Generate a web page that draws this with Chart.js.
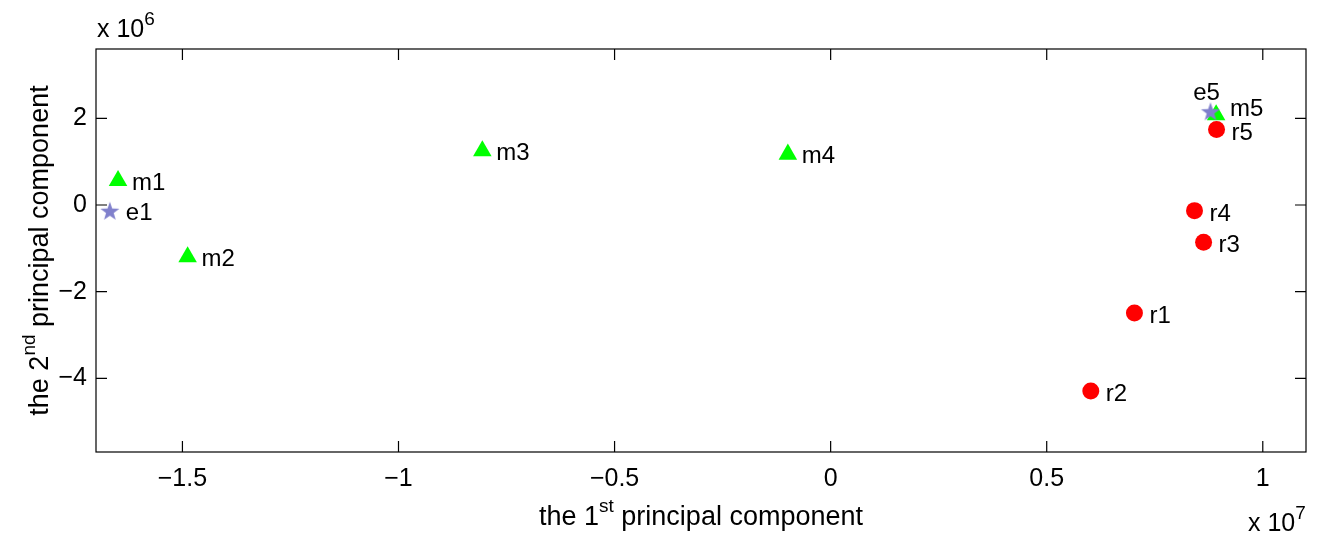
<!DOCTYPE html>
<html>
<head>
<meta charset="utf-8">
<script src="https://cdn.jsdelivr.net/npm/chart.js@4"></script>
<style>
  html, body { margin: 0; padding: 0; background: #fff; }
  canvas { display: block; }
</style>
</head>
<body>
<canvas id="grafica" width="1317" height="537"></canvas>
<script>
// valores (x en unidades de 10^7, y en unidades de 10^6)
const etiquetasE = ['e1', 'e5']
const xE = [-1.668, 0.879]
const yE = [-0.155, 2.14]

const etiquetasM = ['m1', 'm2', 'm3', 'm4', 'm5']
const xM = [-1.649, -1.488, -0.806, -0.099, 0.892]
const yM = [0.56, -1.20, 1.25, 1.17, 2.08]

const etiquetasR = ['r1', 'r2', 'r3', 'r4', 'r5']
const xR = [0.703, 0.602, 0.863, 0.842, 0.893]
const yR = [-2.49, -4.29, -0.86, -0.13, 1.74]

const ticksX = [-1.5, -1, -0.5, 0, 0.5, 1]
const ticksY = [-4, -2, 0, 2]

const fuente = "'Liberation Sans', Arial, Helvetica, sans-serif"

// desplazamiento de cada etiqueta respecto a su punto: [dx, dy, alineacion]
const ajusteEtiqueta = {
  m5: [14, 1, 'left'],
  e5: [-4, -12, 'center'],
  e1: [16, 8, 'left']
}

function puntos(xs, ys) {
  return xs.map((x, i) => ({ x: x, y: ys[i] }))
}

function menos(v) {
  return (v < 0 ? '\u2212' : '') + Math.abs(v)
}

// estrella de cinco puntas para los puntos "e"
function estrella(color, R, r) {
  const c = document.createElement('canvas')
  c.width = c.height = 2 * R + 2
  const g = c.getContext('2d')
  g.fillStyle = color
  g.beginPath()
  for (let i = 0; i < 10; i++) {
    const rad = i % 2 ? r : R
    const a = -Math.PI / 2 + i * Math.PI / 5
    const px = R + 1 + rad * Math.cos(a)
    const py = R + 1 + rad * Math.sin(a)
    if (i === 0) g.moveTo(px, py); else g.lineTo(px, py)
  }
  g.closePath()
  g.fill()
  return c
}

// texto con partes en superindice
function textoSup(ctx, partes, x, y, tam, tamSup, subida, align) {
  let ancho = 0
  partes.forEach(p => {
    ctx.font = (p[1] ? tamSup : tam) + 'px ' + fuente
    ancho += ctx.measureText(p[0]).width
  })
  let cx = align === 'center' ? x - ancho / 2 : x
  ctx.textAlign = 'left'
  ctx.textBaseline = 'alphabetic'
  partes.forEach(p => {
    ctx.font = (p[1] ? tamSup : tam) + 'px ' + fuente
    ctx.fillText(p[0], cx, p[1] ? y - subida : y)
    cx += ctx.measureText(p[0]).width
  })
}

const adornos = {
  id: 'adornos',
  afterDatasetsDraw(chart) {
    const ctx = chart.ctx
    const a = chart.chartArea
    const sx = chart.scales.x
    const sy = chart.scales.y
    ctx.save()
    ctx.strokeStyle = '#000'
    ctx.lineWidth = 1.2
    ctx.strokeRect(a.left, a.top, a.right - a.left, a.bottom - a.top)
    const largo = 11
    ctx.beginPath()
    sx.ticks.forEach(t => {
      const px = sx.getPixelForValue(t.value)
      ctx.moveTo(px, a.bottom); ctx.lineTo(px, a.bottom - largo)
      ctx.moveTo(px, a.top); ctx.lineTo(px, a.top + largo)
    })
    sy.ticks.forEach(t => {
      const py = sy.getPixelForValue(t.value)
      ctx.moveTo(a.left, py); ctx.lineTo(a.left + largo, py)
      ctx.moveTo(a.right, py); ctx.lineTo(a.right - largo, py)
    })
    ctx.stroke()

    // etiquetas de los puntos
    ctx.fillStyle = '#000'
    ctx.font = '24px ' + fuente
    ctx.textBaseline = 'alphabetic'
    chart.data.datasets.forEach((ds, i) => {
      const meta = chart.getDatasetMeta(i)
      meta.data.forEach((el, j) => {
        const nombre = ds.etiquetas[j]
        const aj = ajusteEtiqueta[nombre] || ds.ajuste
        ctx.textAlign = aj[2]
        ctx.fillText(nombre, el.x + aj[0], el.y + aj[1])
      })
    })

    // titulos de los ejes
    const cx = (a.left + a.right) / 2
    textoSup(ctx, [['the 1', false], ['st', true], [' principal component', false]], cx, 525, 27, 19, 13, 'center')
    ctx.save()
    ctx.translate(48, (a.top + a.bottom) / 2)
    ctx.rotate(-Math.PI / 2)
    textoSup(ctx, [['the 2', false], ['nd', true], [' principal component', false]], 0, 0, 27, 19, 13, 'center')
    ctx.restore()

    // factores de escala
    textoSup(ctx, [['x 10', false], ['6', true]], 97, 37, 25, 19, 12, 'left')
    textoSup(ctx, [['x 10', false], ['7', true]], 1248, 531, 25, 19, 12, 'left')
    ctx.restore()
  }
}

const config = {
  type: 'scatter',
  data: {
    datasets: [
      {
        label: 'e',
        data: puntos(xE, yE),
        etiquetas: etiquetasE,
        ajuste: [16, 8, 'left'],
        pointStyle: estrella('#8080cc', 10, 4),
        pointRadius: 10
      },
      {
        label: 'm',
        data: puntos(xM, yM),
        etiquetas: etiquetasM,
        ajuste: [14, 9, 'left'],
        pointStyle: 'triangle',
        pointRadius: 10.7,
        pointBorderWidth: 0,
        backgroundColor: '#00ff00'
      },
      {
        label: 'r',
        data: puntos(xR, yR),
        etiquetas: etiquetasR,
        ajuste: [15, 10, 'left'],
        pointStyle: 'circle',
        pointRadius: 8.5,
        pointBorderWidth: 0,
        backgroundColor: '#ff0000'
      }
    ]
  },
  options: {
    responsive: false,
    animation: false,
    events: [],
    layout: { padding: { left: 0, top: 49, right: 8, bottom: 0 } },
    plugins: { legend: { display: false }, tooltip: { enabled: false } },
    scales: {
      x: {
        type: 'linear',
        min: -1.7,
        max: 1.1,
        afterBuildTicks: s => { s.ticks = ticksX.map(v => ({ value: v })) },
        afterFit: s => { s.height = 85 },
        grid: { display: false, drawTicks: false },
        border: { display: false },
        ticks: {
          color: '#000',
          font: { family: fuente, size: 25 },
          padding: 12,
          maxRotation: 0,
          autoSkip: false,
          callback: v => menos(v)
        }
      },
      y: {
        type: 'linear',
        min: -5.7,
        max: 3.6,
        afterBuildTicks: s => { s.ticks = ticksY.map(v => ({ value: v })) },
        afterFit: s => { s.width = 96 },
        grid: { display: false, drawTicks: false },
        border: { display: false },
        ticks: {
          color: '#000',
          font: { family: fuente, size: 25 },
          padding: 9,
          autoSkip: false,
          callback: v => menos(v)
        }
      }
    }
  },
  plugins: [adornos]
}

const grafica = new Chart(document.getElementById('grafica'), config)
</script>
</body>
</html>
